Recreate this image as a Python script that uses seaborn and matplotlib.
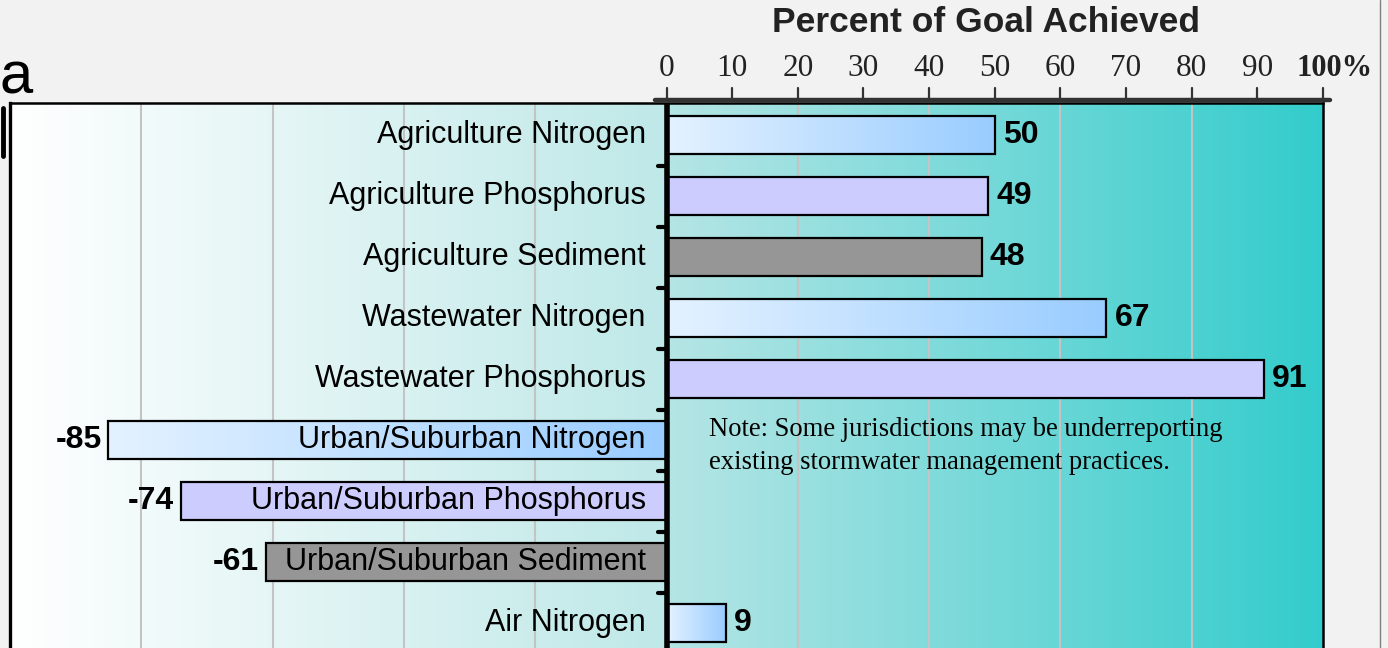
import numpy as np
import pandas as pd
import matplotlib
matplotlib.use("Agg")
import matplotlib.pyplot as plt
from matplotlib.colors import LinearSegmentedColormap
from matplotlib.lines import Line2D
import matplotlib.transforms as mtransforms
import seaborn as sns

# ---------------- data ----------------
categories = [
    "Agriculture Nitrogen", "Agriculture Phosphorus", "Agriculture Sediment",
    "Wastewater Nitrogen", "Wastewater Phosphorus",
    "Urban/Suburban Nitrogen", "Urban/Suburban Phosphorus", "Urban/Suburban Sediment",
    "Air Nitrogen",
]
percent_achieved = [50, 49, 48, 67, 91, -85, -74, -61, 9]
pollutant = ["Nitrogen", "Phosphorus", "Sediment", "Nitrogen", "Phosphorus",
             "Nitrogen", "Phosphorus", "Sediment", "Nitrogen"]
top_ticks = [0, 10, 20, 30, 40, 50, 60, 70, 80, 90, 100]
top_tick_labels = ["0", "10", "20", "30", "40", "50", "60", "70", "80", "90", "100%"]
grid_values = [-80, -60, -40, -20, 20, 40, 60, 80]
axis_title = "Percent of Goal Achieved"
note = "Note: Some jurisdictions may be underreporting\nexisting stormwater management practices."

# ---------------- style ----------------
pollutant_colors = {"Nitrogen": "#99ccff", "Phosphorus": "#ccccff", "Sediment": "#969696"}
nitrogen_light = "#e4f2ff"
SANS = ["Liberation Sans", "DejaVu Sans"]
SERIF = ["Liberation Serif", "DejaVu Serif"]

sns.set_theme(style="white")
plt.rcParams["font.family"] = SANS
plt.rcParams["text.color"] = "black"

W, H = 1388, 648
fig = plt.figure(figsize=(W / 100, H / 100), dpi=100)
fig.patch.set_facecolor("#f2f2f2")

def fx(px):
    return px / W

def fy(py):
    return 1 - py / H

# main axes
y_top, y_bottom = -0.525, 9.0
ax_top_px, ax_bot_px = 103, 684
ax = fig.add_axes([fx(10), fy(ax_bot_px), fx(1323) - fx(10), (ax_bot_px - ax_top_px) / H])

df = pd.DataFrame({"category": categories, "value": percent_achieved, "pollutant": pollutant})
palette = [pollutant_colors[p] for p in pollutant]
sns.barplot(data=df, x="value", y="category", hue="category", palette=palette,
            legend=False, orient="h", width=0.62, saturation=1,
            edgecolor="black", linewidth=1.6, ax=ax)

# backgrounds (gradients)
grad = np.linspace(0, 1, 256)[None, :]
left_cmap = LinearSegmentedColormap.from_list("lbg", ["#ffffff", "#bfe8e8"])
right_cmap = LinearSegmentedColormap.from_list("rbg", ["#b6e5e5", "#33cccc"])
ax.imshow(grad, cmap=left_cmap, extent=[-100, 0, y_bottom, y_top], aspect="auto", zorder=0)
ax.imshow(grad, cmap=right_cmap, extent=[0, 100, y_bottom, y_top], aspect="auto", zorder=0)

# grid lines
ax.vlines(grid_values, y_top, y_bottom, color="#c4c4c4", lw=1.5, zorder=1)

# bars: nitrogen gradient fill
nit_cmap = LinearSegmentedColormap.from_list("nit", [nitrogen_light, pollutant_colors["Nitrogen"]])
for patch in ax.patches:
    patch.set_zorder(3)
    yc = patch.get_y() + patch.get_height() / 2
    i = int(round(yc))
    if 0 <= i < len(categories) and pollutant[i] == "Nitrogen":
        x0 = patch.get_x()
        x1 = x0 + patch.get_width()
        xl, xr = min(x0, x1), max(x0, x1)
        y0 = patch.get_y()
        y1 = y0 + patch.get_height()
        patch.set_facecolor("none")
        im = ax.imshow(grad, cmap=nit_cmap, extent=[xl, xr, y1, y0], aspect="auto", zorder=2.9)
        im.set_clip_path(patch)

ax.set_xlim(-100, 100)
ax.set_ylim(y_bottom, y_top)
ax.set_xlabel("")
ax.set_ylabel("")
ax.set_xticks([])
ax.set_yticks([])
for side in ["left", "top", "right"]:
    ax.spines[side].set_visible(True)
    ax.spines[side].set_color("black")
    ax.spines[side].set_linewidth(1.8)
ax.spines["left"].set_linewidth(2.4)
ax.spines["bottom"].set_visible(False)

# zero axis with boundary stubs
ax.axvline(0, color="black", lw=4, zorder=5)
stubs = ax.hlines(np.arange(0.5, len(categories) + 0.5, 1), -1.3, 0, color="black", lw=3, zorder=5)
stubs.set_capstyle("round")

# category labels and value labels
for i, (cat, v) in enumerate(zip(categories, percent_achieved)):
    ax.annotate(cat, (0, i), xytext=(-15, 0), textcoords="offset points",
                ha="right", va="center", fontsize=22, color="black", zorder=6,
                family=SANS)
    if v >= 0:
        ax.annotate(str(v), (v, i), xytext=(6, 0), textcoords="offset points",
                    ha="left", va="center", fontsize=23, fontweight="bold", color="black",
                    zorder=6, family=SANS)
    else:
        ax.annotate(str(v), (v, i), xytext=(-5, 0), textcoords="offset points",
                    ha="right", va="center", fontsize=23, fontweight="bold", color="black",
                    zorder=6, family=SANS)

# note
ax.text(6.5, 5.1, note, ha="left", va="center", fontsize=19.2, family=SERIF,
        linespacing=1.45, color="black", zorder=6)

# top percent axis
tr = mtransforms.blended_transform_factory(ax.transData, fig.transFigure)
ax.add_line(Line2D([-1.7, 101], [fy(100), fy(100)], transform=tr, color="#333333",
                   lw=3.2, clip_on=False, zorder=7))
for t, lab in zip(top_ticks, top_tick_labels):
    ax.add_line(Line2D([t, t], [fy(100), fy(88)], transform=tr, color="#333333",
                       lw=1.6, clip_on=False, zorder=7))
    if lab.endswith("%"):
        ax.text(t - 4.0, fy(68), lab, transform=tr, ha="left", va="center", fontsize=22,
                family=SERIF, fontweight="bold", color="#222222")
    else:
        ax.text(t, fy(68), lab, transform=tr, ha="center", va="center", fontsize=22.5,
                family=SERIF, color="#222222")
ax.text(48.6, fy(23), axis_title, transform=tr, ha="center", va="center",
        fontsize=25.5, fontweight="bold", family=SANS, color="#222222")

# fragments of the surrounding slide
fig.text(fx(-1), fy(93), "a", ha="left", va="baseline", fontsize=43, family=SANS, color="black")
fig.add_artist(Line2D([fx(2.5), fx(2.5)], [fy(108), fy(156)], transform=fig.transFigure,
                      color="black", lw=3.5))
fig.add_artist(Line2D([fx(1380), fx(1380)], [0, 1], transform=fig.transFigure,
                      color="#808080", lw=1))

fig.savefig("out.png", dpi=100, facecolor=fig.get_facecolor())
